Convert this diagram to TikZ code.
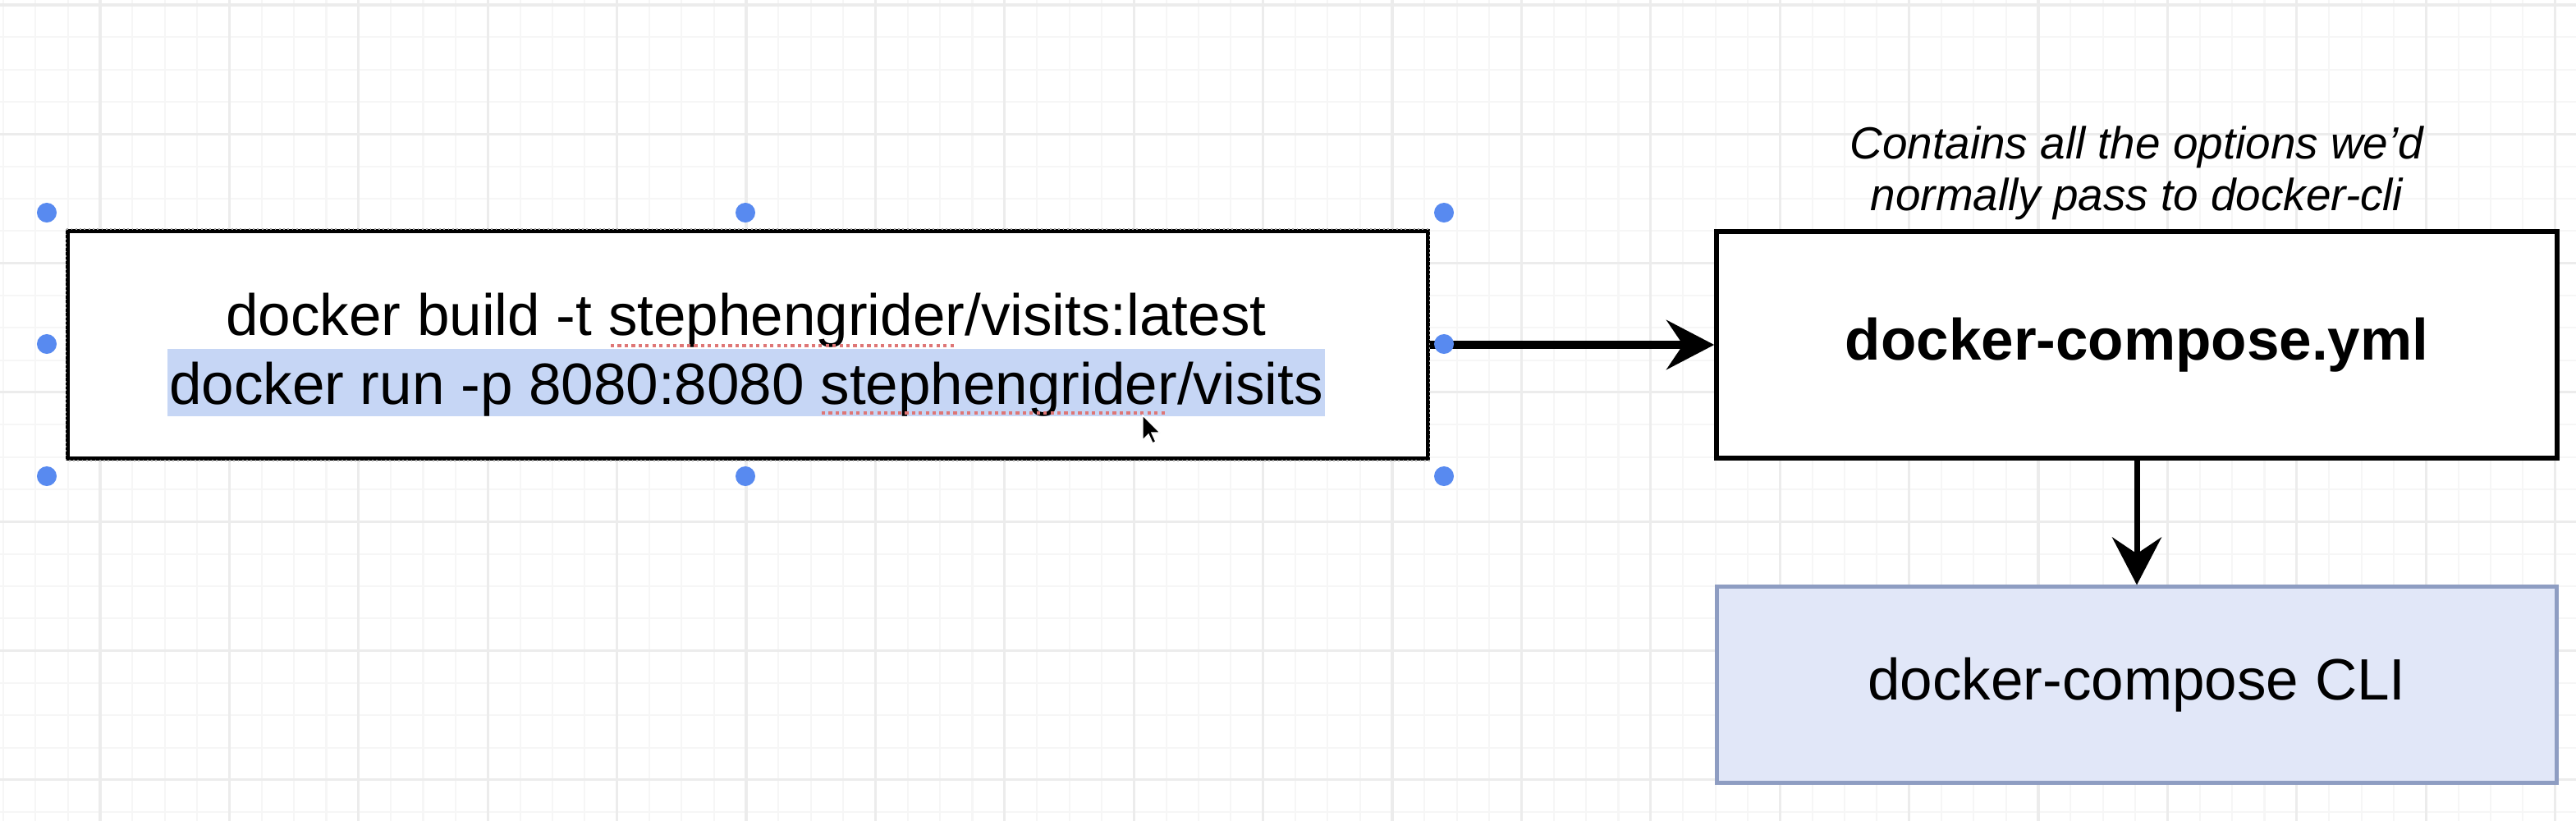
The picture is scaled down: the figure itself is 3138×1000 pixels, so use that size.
\documentclass[tikz,border=0pt]{standalone}
\usepackage{fontspec}
\setmainfont{Liberation Sans}
\usetikzlibrary{arrows.meta,positioning}

\definecolor{handleblue}{RGB}{88,138,240}
\definecolor{selectblue}{RGB}{198,214,245}
\definecolor{cliblue}{RGB}{225,231,248}
\definecolor{cliborder}{RGB}{142,157,194}
\definecolor{gridminor}{RGB}{246,246,246}
\definecolor{gridmajor}{RGB}{236,236,236}
\definecolor{spellred}{RGB}{222,118,118}

\begin{document}
\begin{tikzpicture}[x=0.01cm, y=-0.01cm,
    box/.style={draw=black, line width=1.7pt, fill=white,
        minimum width=10.23cm, inner sep=0pt},
    cmdline/.style={anchor=base, inner sep=0pt, font=\fontsize{20.2pt}{24pt}\selectfont},
    note/.style={align=center, inner sep=0pt, font=\fontsize{15.6pt}{17.9pt}\selectfont\itshape},
    flow/.style={-{Stealth[length=0.58cm, width=0.6cm, inset=0.2cm]}, line width=2.6pt},
    handle/.style={fill=handleblue},
    spell/.style={draw=spellred, line width=0.9pt, dash pattern=on 1.2pt off 1.2pt}]

    % Canvas and grid
    \useasboundingbox (0,0) rectangle (3138,1000);
    \fill[white] (0,0) rectangle (3138,1000);
    \foreach \i in {0,...,79}
        \draw[gridminor, line width=0.6pt] ({4+39.35*\i},0) -- ({4+39.35*\i},1000);
    \foreach \i in {0,...,25}
        \draw[gridminor, line width=0.6pt] (0,{6+39.33*\i}) -- (3138,{6+39.33*\i});
    \foreach \i in {0,...,19}
        \draw[gridmajor, line width=0.9pt] ({122+157.4*\i},0) -- ({122+157.4*\i},1000);
    \foreach \i in {0,...,6}
        \draw[gridmajor, line width=0.9pt] (0,{6+157.3*\i}) -- (3138,{6+157.3*\i});

    % Selected command box
    \node[
        draw=black,
        fill=white,
        line width=1.2pt,
        minimum width=16.56cm,
        minimum height=2.77cm
    ] (cmdbox) at (911,420) {};
    \draw[gray!70, line width=0.5pt, densely dotted] (cmdbox.north west) rectangle (cmdbox.south east);

    \node[cmdline] (buildline) at (909,408) {docker build -t stephengrider/visits:latest};
    \node[cmdline, fill=selectblue, inner xsep=0.02cm,
        text height=0.67cm, text depth=0.15cm] (runline) at (909,492)
        {docker run -p 8080:8080 stephengrider/visits};

    % Spell check marks and pointer
    \draw[spell] (744,421) -- (1165,421);
    \draw[spell] (1001,503) -- (1420,503);

    % Compose file and its note
    \node[box, minimum height=2.76cm,
        font=\fontsize{20.2pt}{24pt}\selectfont\bfseries] (ymlbox) at (2603,420) {docker-compose.yml};
    \node[note, above=0.1cm of ymlbox] (ymlnote) {Contains all the options we'd\\normally pass to docker-cli};

    % CLI box
    \node[box, draw=cliborder, fill=cliblue, line width=1.4pt, minimum height=2.38cm,
        font=\fontsize{20.2pt}{24pt}\selectfont] (clibox) at (2603,834) {docker-compose CLI};

    % Connectors
    \draw[flow] (cmdbox.east) -- (ymlbox.west);
    \draw[flow, line width=2pt] (ymlbox.south) -- (clibox.north);

    % Selection handles
    \foreach \hx/\hy in {57/259, 908/259, 1759/259, 57/419, 1759/419, 57/580, 908/580, 1759/580}
        \fill[handle] (\hx,\hy) circle (0.12cm);

    \filldraw[fill=black, draw=white, line width=0.4pt] (1392,506) -- ++(0,30) -- ++(7,-7)
        -- ++(5,11) -- ++(4,-2) -- ++(-5,-11) -- ++(10,0) -- cycle;
\end{tikzpicture}
\end{document}
